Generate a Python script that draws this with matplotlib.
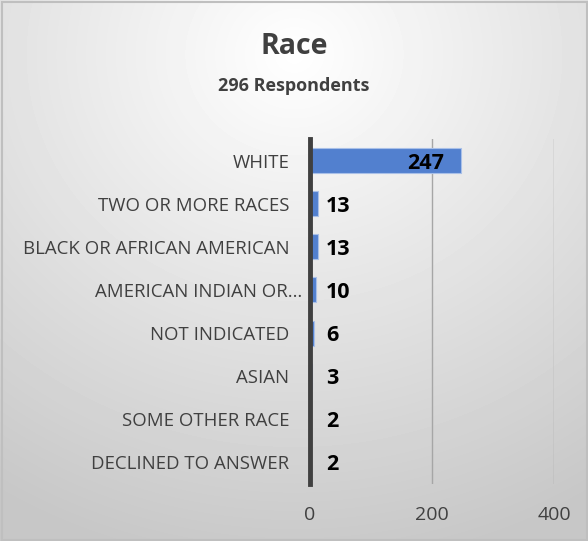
import numpy as np
import matplotlib
matplotlib.use("Agg")
from matplotlib import pyplot as plt
from matplotlib.patches import Rectangle
from matplotlib.transforms import ScaledTranslation

plt.rcParams['font.family'] = ['Open Sans', 'DejaVu Sans']

categories = ["WHITE", "TWO OR MORE RACES", "BLACK OR AFRICAN AMERICAN",
              "AMERICAN INDIAN OR…", "NOT INDICATED", "ASIAN",
              "SOME OTHER RACE", "DECLINED TO ANSWER"]
counts = [247, 13, 13, 10, 6, 3, 2, 2]
x_ticks = [0, 200, 400]
title = "Race"
subtitle = "296 Respondents"

W, H = 588, 541
fig = plt.figure(figsize=(W / 100, H / 100), dpi=100)

# radial grey background
bg = fig.add_axes([0, 0, 1, 1])
yy, xx = np.mgrid[0:H, 0:W]
r = np.sqrt(((xx - W * 0.5) / W) ** 2 + ((yy - H * 0.1) / H) ** 2)
shade = 1.0 - 0.22 * np.clip(r / 0.95, 0, 1)
bg.imshow(shade, cmap="gray", vmin=0, vmax=1, extent=[0, W, H, 0], aspect="auto")
bg.add_patch(Rectangle((1.5, 1.5), W - 3, H - 3, fill=False, edgecolor="#bfbfbf", lw=1.5))
bg.set_xlim(0, W)
bg.set_ylim(H, 0)
bg.axis("off")

fig.text(0.5, 1 - 46 / H, title, ha="center", va="center", fontsize=20.5,
         fontweight="bold", color="#404040")
fig.text(0.5, 1 - 86 / H, subtitle, ha="center", va="center", fontsize=13,
         fontweight="bold", color="#404040")

ax = fig.add_axes([310 / W, 1 - 484 / H, (554 - 310) / W, (484 - 139) / H])
ax.patch.set_alpha(0)
y = np.arange(len(categories))
ax.barh(y, counts, height=0.58, color="#5280cf", edgecolor="#a9c0e8", lw=0.8, zorder=3)
ax.set_ylim(len(categories) - 0.5, -0.5)
ax.set_xlim(0, 400)
ax.set_xticks(x_ticks)
ax.set_xticklabels([str(t) for t in x_ticks])
ax.set_yticks(y)
ax.set_yticklabels(categories)
ax.tick_params(axis="y", length=0, pad=15, labelsize=13.4, labelcolor="#404040")
ax.tick_params(axis="x", length=0, pad=16, labelsize=14, labelcolor="#404040")
ax.grid(axis="x", color="#a6a6a6", lw=1, zorder=0)
for s in ["top", "right", "bottom"]:
    ax.spines[s].set_visible(False)
ax.spines["left"].set_color("#404040")
ax.spines["left"].set_linewidth(3.5)
ax.spines["left"].set_zorder(4)

# truncated label hangs past the others, like the original
for lab in ax.get_yticklabels():
    if lab.get_text().endswith("…"):
        lab.set_transform(lab.get_transform() + ScaledTranslation(13 / 100, 0, fig.dpi_scale_trans))

for yi, v in zip(y, counts):
    if v > 100:
        ax.text(v - 28, yi, str(v), ha="right", va="center_baseline", fontsize=15.5,
                fontweight="bold", color="black", zorder=5)
    else:
        ax.text(26, yi, str(v), ha="left", va="center_baseline", fontsize=15.5,
                fontweight="bold", color="black", zorder=5)

fig.savefig("out.png", dpi=100)
